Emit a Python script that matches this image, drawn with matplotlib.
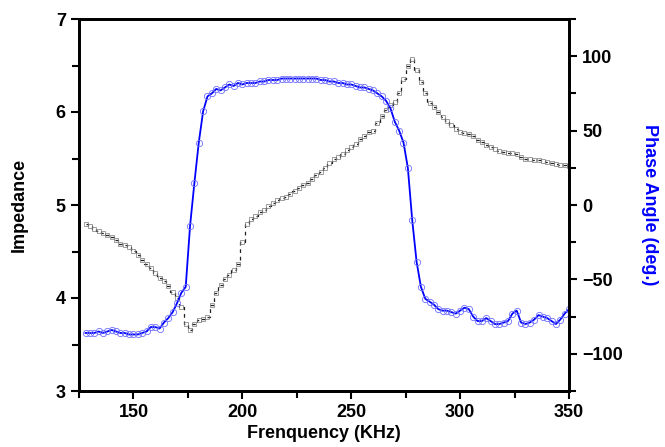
import numpy as np
import matplotlib
matplotlib.use("Agg")
import matplotlib.pyplot as plt
from matplotlib.ticker import MultipleLocator

freq = list(range(128, 351, 2))

impedance = [4.80, 4.77, 4.74, 4.72, 4.70, 4.68, 4.66, 4.62, 4.58, 4.57,
             4.55, 4.51, 4.46, 4.41, 4.37, 4.32, 4.27, 4.22, 4.18, 4.13,
             4.06, 4.00, 3.90, 3.72, 3.66, 3.72, 3.76, 3.77, 3.80, 3.92,
             4.05, 4.14, 4.20, 4.25, 4.30, 4.37, 4.60, 4.80, 4.85, 4.88,
             4.92, 4.95, 4.99, 5.02, 5.05, 5.07, 5.09, 5.12, 5.15, 5.18,
             5.21, 5.24, 5.28, 5.32, 5.36, 5.40, 5.45, 5.49, 5.52, 5.55,
             5.59, 5.62, 5.66, 5.71, 5.74, 5.78, 5.80, 5.88, 5.96, 6.02,
             6.07, 6.11, 6.20, 6.35, 6.50, 6.57, 6.45, 6.32, 6.20, 6.10,
             6.05, 6.00, 5.95, 5.90, 5.86, 5.82, 5.79, 5.77, 5.76, 5.74,
             5.70, 5.68, 5.65, 5.62, 5.60, 5.58, 5.57, 5.56, 5.56, 5.55,
             5.52, 5.50, 5.49, 5.48, 5.48, 5.47, 5.46, 5.45, 5.44, 5.43,
             5.43, 5.42]

phase = [-86, -86, -86, -85, -86, -85, -84, -85, -86, -86,
         -87, -87, -87, -86, -85, -82, -82, -83, -79, -76,
         -72, -66, -59, -55, -14, 15, 42, 63, 73, 75,
         78, 77, 79, 81, 80, 82, 81, 82, 82, 82,
         83, 83, 84, 84, 84, 85, 85, 85, 85, 85,
         85, 85, 85, 85, 84, 84, 83, 83, 82, 82,
         81, 81, 80, 79, 79, 78, 77, 75, 73, 70,
         65, 56, 50, 42, 25, -10, -38, -55, -63, -65,
         -67, -70, -71, -71, -72, -73, -71, -69, -70, -75,
         -78, -78, -76, -78, -80, -80, -79, -78, -73, -71,
         -79, -80, -79, -77, -74, -75, -76, -78, -80, -77,
         -73, -70]

x_ticks = [150, 200, 250, 300, 350]
imp_ticks = [3, 4, 5, 6, 7]
phase_ticks = [-100, -50, 0, 50, 100]

plt.rcParams['font.family'] = ['Liberation Sans', 'DejaVu Sans']
plt.rcParams['font.weight'] = 'bold'

fig = plt.figure(figsize=(6.65, 4.47), dpi=100)
ax = fig.add_axes([79/665, 56/447, 490/665, 372/447])
ax2 = ax.twinx()

ax.plot(freq, impedance, drawstyle='steps-mid', color='#222222', lw=0.9,
        linestyle=(0, (3, 3)), marker='s', markersize=3,
        markerfacecolor='none', markeredgecolor='#777777', markeredgewidth=0.5)
ax2.plot(freq, phase, color='#0000ff', lw=1.3, marker='o', markersize=4.5,
         markerfacecolor='none', markeredgecolor='#7070ff', markeredgewidth=0.6)

ax.set_xlim(125, 350)
ax.set_ylim(3, 7)
ax2.set_ylim(-125, 125)
ax.set_xticks(x_ticks)
ax.set_yticks(imp_ticks)
ax2.set_yticks(phase_ticks)
ax.xaxis.set_minor_locator(MultipleLocator(25))
ax.yaxis.set_minor_locator(MultipleLocator(0.5))
ax2.yaxis.set_minor_locator(MultipleLocator(25))

for a in (ax, ax2):
    for s in a.spines.values():
        s.set_linewidth(2)
    a.tick_params(which='both', direction='out', width=1.5, labelsize=13)
    a.tick_params(which='major', length=6)
    a.tick_params(which='minor', length=5)

ax.set_xlabel('Frenquency (KHz)', fontsize=13, fontweight='bold', labelpad=3)
ax.set_ylabel('Impedance', fontsize=13, fontweight='bold', labelpad=20)
ax2.set_ylabel('Phase Angle (deg.)', fontsize=13, fontweight='bold',
               color='#0000ff', rotation=-90, labelpad=25)

fig.savefig('out.png', dpi=100)
